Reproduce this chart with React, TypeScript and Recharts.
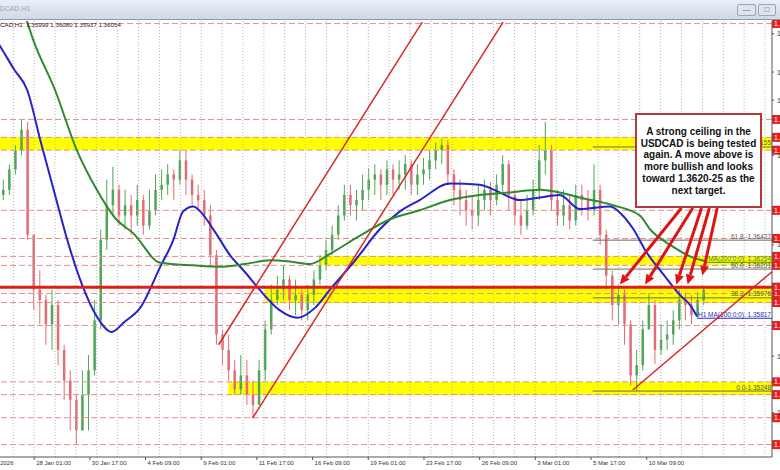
import React from 'react'
import { ComposedChart, Bar, Line, XAxis, YAxis, ReferenceLine, ReferenceArea } from 'recharts'

// candles: one per 7 hourly bars
const firstOpen = 1.3678
const barHours = 7
const firstBarHour = 32.5

const closes = [
   1.3682, 1.3698, 1.3713, 1.3729, 1.3647, 1.3604, 1.3596, 1.3577, 1.3592, 1.3557,
   1.3533, 1.3518, 1.3494, 1.3522, 1.3541, 1.358, 1.3643, 1.367, 1.3682, 1.3662,
   1.367, 1.3662, 1.3674, 1.3654, 1.3666, 1.3682, 1.3686, 1.3694, 1.369, 1.3705,
   1.369, 1.3678, 1.3674, 1.3662, 1.3631, 1.3569, 1.3557, 1.3541, 1.3526, 1.3537,
   1.3522, 1.3514, 1.3541, 1.3573, 1.3596, 1.3604, 1.3612, 1.3596, 1.36, 1.3588,
   1.36, 1.3612, 1.3623, 1.3635, 1.3647, 1.3662, 1.3678, 1.367, 1.3674, 1.3682,
   1.369, 1.3694, 1.3686, 1.3698, 1.369, 1.3694, 1.3702, 1.3686, 1.3694, 1.3698,
   1.3705, 1.3713, 1.3717, 1.3694, 1.3682, 1.3674, 1.3666, 1.3662, 1.3674, 1.3682,
   1.3674, 1.3686, 1.3702, 1.3678, 1.3662, 1.3654, 1.3666, 1.3682, 1.3705, 1.3713,
   1.3674, 1.3662, 1.367, 1.3658, 1.3678, 1.3674, 1.3666, 1.3682, 1.3647, 1.3615,
   1.3592, 1.36, 1.3577, 1.3537, 1.3545, 1.3573, 1.3592, 1.3557, 1.3565, 1.3569,
   1.358, 1.3596, 1.3592, 1.3584, 1.3596, 1.3604,
]
const highs = [
   1.369, 1.3702, 1.3717, 1.3737, 1.3735, 1.3623, 1.3619, 1.36, 1.3604, 1.3596,
   1.3561, 1.3541, 1.3522, 1.3541, 1.3553, 1.3596, 1.3651, 1.369, 1.37, 1.3686,
   1.3682, 1.3678, 1.3686, 1.3678, 1.3682, 1.3694, 1.3698, 1.3702, 1.3698, 1.3713,
   1.3713, 1.3694, 1.3686, 1.3682, 1.367, 1.3635, 1.3573, 1.3569, 1.3549, 1.3553,
   1.3549, 1.3533, 1.3549, 1.358, 1.3608, 1.3615, 1.3623, 1.3615, 1.3612, 1.3604,
   1.3608, 1.3619, 1.3631, 1.3643, 1.3654, 1.367, 1.3686, 1.3686, 1.3682, 1.3694,
   1.3699, 1.3702, 1.3698, 1.3705, 1.3702, 1.3705, 1.3709, 1.3705, 1.3702, 1.3707,
   1.3713, 1.3719, 1.3722, 1.3721, 1.3698, 1.369, 1.3682, 1.3678, 1.3686, 1.369,
   1.3688, 1.3694, 1.3709, 1.3705, 1.3682, 1.3674, 1.3678, 1.369, 1.3717, 1.3735,
   1.3717, 1.3682, 1.3682, 1.3678, 1.3686, 1.3686, 1.3682, 1.3702, 1.3686, 1.3651,
   1.3619, 1.3608, 1.3604, 1.358, 1.3557, 1.358, 1.3601, 1.3596, 1.3577, 1.358,
   1.3588, 1.3604, 1.3602, 1.36, 1.3602, 1.3606,
]
const lows = [
   1.3674, 1.3678, 1.3694, 1.3709, 1.3643, 1.3588, 1.3577, 1.3561, 1.3557, 1.3545,
   1.3518, 1.3494, 1.3483, 1.3498, 1.3494, 1.3537, 1.3573, 1.3635, 1.3662, 1.3654,
   1.3651, 1.3647, 1.3654, 1.3647, 1.3651, 1.3662, 1.3674, 1.3678, 1.3674, 1.3686,
   1.3678, 1.367, 1.3666, 1.3654, 1.3623, 1.3561, 1.3545, 1.3533, 1.3522, 1.3522,
   1.3514, 1.3504, 1.3514, 1.3533, 1.3569, 1.3592, 1.3596, 1.3588, 1.3584, 1.358,
   1.358, 1.3592, 1.3608, 1.3619, 1.3631, 1.3643, 1.3658, 1.3662, 1.3658, 1.3666,
   1.3674, 1.3678, 1.3674, 1.3678, 1.3678, 1.3682, 1.3682, 1.3678, 1.3678, 1.3686,
   1.369, 1.3698, 1.3702, 1.3686, 1.367, 1.3662, 1.3654, 1.3651, 1.3654, 1.3666,
   1.3662, 1.367, 1.3678, 1.3666, 1.3654, 1.3647, 1.3651, 1.3662, 1.3674, 1.3694,
   1.3666, 1.3654, 1.3654, 1.3651, 1.3654, 1.3662, 1.3658, 1.3662, 1.3639, 1.3604,
   1.358, 1.3577, 1.3561, 1.3529, 1.3525, 1.3541, 1.3573, 1.3546, 1.3553, 1.3557,
   1.3561, 1.3573, 1.358, 1.3577, 1.3582, 1.3592,
]

// moving averages (hour index, price)
const ma100Hours = [0, 29, 45, 60, 75, 92, 106, 123, 140, 157, 172, 190, 213, 228, 239, 251, 259, 276, 293, 310, 327, 350, 371, 391, 408, 437, 465, 488, 511, 546, 580, 603, 626, 649, 672, 695, 730, 743, 756, 772, 790, 810, 822, 830]
const ma100Values = [1.3822, 1.3794, 1.3776, 1.376, 1.3721, 1.3678, 1.3643, 1.3608, 1.3583, 1.3571, 1.3579, 1.359, 1.3622, 1.3643, 1.3665, 1.3669, 1.3665, 1.3649, 1.3631, 1.3618, 1.3604, 1.3588, 1.3582, 1.359, 1.3604, 1.3627, 1.3651, 1.3665, 1.3674, 1.3687, 1.3686, 1.368, 1.3674, 1.3676, 1.3678, 1.3667, 1.3669, 1.3663, 1.3652, 1.3633, 1.3617, 1.36, 1.3592, 1.3583]
const ma200Hours = [50, 60, 67, 92, 117, 140, 161, 182, 213, 251, 282, 310, 339, 362, 385, 408, 442, 477, 511, 546, 580, 615, 649, 672, 695, 733, 764, 776, 799, 822, 841]
const ma200Values = [1.383, 1.3813, 1.3799, 1.376, 1.3713, 1.3682, 1.366, 1.3648, 1.3625, 1.3623, 1.3622, 1.3624, 1.3627, 1.3626, 1.3624, 1.3632, 1.3646, 1.3659, 1.3666, 1.3674, 1.3678, 1.368, 1.3682, 1.368, 1.3676, 1.367, 1.3662, 1.3651, 1.3639, 1.363, 1.3626]

// axis
const tickHours = [4, 68, 132, 196, 260, 324, 388, 452, 516, 580, 644, 708, 772]
const tickLabels = ['23 Jan 2026', '28 Jan 01:00', '30 Jan 17:00', '4 Feb 09:00', '9 Feb 01:00', '11 Feb 17:00', '16 Feb 09:00', '19 Feb 01:00', '23 Feb 17:00', '26 Feb 09:00', '3 Mar 01:00', '5 Mar 17:00', '10 Mar 09:00']
const priceTicks = [1.3804, 1.3774, 1.3752, 1.3709, 1.3639, 1.3552, 1.3508]
const gridHours = Array.from({ length: 38 }, (_, k) => 20 + k * 24)

// drawn levels
const dashedLevels = [1.3812, 1.3737, 1.3723, 1.3713, 1.3666, 1.3644, 1.363, 1.3623, 1.3601, 1.3594, 1.3576, 1.3532, 1.3522, 1.3504, 1.3483]
const ceiling = 1.3606
const fibLevels = [1.37155, 1.36427, 1.36201, 1.35976, 1.35248]
const fibLabels = ['100.0 -1.37155', '61.8 -1.36427', '50.0 -1.36201', '38.2 -1.35976', '0.0-1.35248']
const fibStart = 710
const ma100Last = 1.35817
const ma200Last = 1.36254

const bands = [
   { from: 0, top: 1.37233, bottom: 1.37131 },
   { from: 396, top: 1.36303, bottom: 1.36233 },
   { from: 333, top: 1.36061, bottom: 1.35936 },
   { from: 291, top: 1.35318, bottom: 1.35217 },
]
const channelUpper = [{ x: 280, y: 1.3561 }, { x: 514, y: 1.3813 }]
const channelLower = [{ x: 319, y: 1.35037 }, { x: 607, y: 1.3813 }]
const riseLine = [{ x: 756, y: 1.35256 }, { x: 916, y: 1.3618 }]
const arrowStartHours = [812, 825, 835, 844, 853]
const arrowTipHours = [741, 770, 806, 819, 836]
const arrowTipPrices = [1.3608, 1.3608, 1.3608, 1.3608, 1.3615]
const boxBottomPrice = 1.36678

const candles = closes.map((c, i) => {
   const o = i === 0 ? firstOpen : closes[i - 1]
   const hi = Math.max(highs[i], o, c)
   const lo = Math.min(lows[i], o, c)
   return { h: firstBarHour + i * barHours, open: o, close: c, high: hi, low: lo, range: [lo, hi] }
})
const ma100 = ma100Hours.map((h, i) => ({ h, v: ma100Values[i] }))
const ma200 = ma200Hours.map((h, i) => ({ h, v: ma200Values[i] }))

const FONT = 'Liberation Sans, Arial, sans-serif'

const Candle = (props: any) => {
   const { x, y, width, height, payload } = props
   if (!payload) return null
   const { open, close, high, low } = payload
   const color = close >= open ? '#4fa658' : '#e06c76'
   const top = Math.min(y, y + height)
   const h = Math.abs(height)
   const span = high - low || 1e-9
   const yOf = (p: number) => top + ((high - p) / span) * h
   const cx = x + width / 2
   const bTop = yOf(Math.max(open, close))
   const bBot = yOf(Math.min(open, close))
   return (
      <g>
         <line x1={cx} x2={cx} y1={top} y2={top + h} stroke={color} strokeWidth={1} />
         <rect x={cx - 1.25} y={bTop} width={2.5} height={Math.max(1, bBot - bTop)} fill={color} />
      </g>
   )
}

const TimeTick = (props: any) => {
   const { x, y, payload } = props
   const i = tickHours.indexOf(payload.value)
   return (
      <text x={x + 2} y={y + 3} fontSize={6} fill="#333" fontFamily={FONT}>
         {tickLabels[i]}
      </text>
   )
}

const PriceTick = (props: any) => {
   const { x, y, payload } = props
   return (
      <text x={x + 1} y={y + 2.5} fontSize={7} fill="#333" fontFamily={FONT}>
         {payload.value.toFixed(5)}
      </text>
   )
}

const getBox = (p: any) => p.viewBox || p

const PriceTag = (p: any) => {
   const vb = getBox(p)
   const x = vb.x + vb.width
   return (
      <g>
         <rect x={x} y={vb.y - 4.5} width={10} height={9} fill="#e3201f" />
         <text x={x + 2} y={vb.y + 2.5} fontSize={7} fill="#fff" fontFamily={FONT}>1.3</text>
      </g>
   )
}

const rightText = (text: string, color: string) => (p: any) => {
   const vb = getBox(p)
   return (
      <text x={vb.x + vb.width - 1} y={vb.y - 1.5} textAnchor="end" fontSize={6.5} fill={color} fontFamily={FONT}>
         {text}
      </text>
   )
}

const Arrow = (props: any) => {
   const { x1, y1, x2, y2 } = props
   const a = Math.atan2(y2 - y1, x2 - x1)
   const len = 10
   const w = 4.5
   const bx = x2 - len * Math.cos(a)
   const by = y2 - len * Math.sin(a)
   const px = -Math.sin(a) * w
   const py = Math.cos(a) * w
   return (
      <g>
         <line x1={x1} y1={y1} x2={bx} y2={by} stroke="#dc1414" strokeWidth={3} />
         <polygon points={`${x2},${y2} ${bx + px},${by + py} ${bx - px},${by - py}`} fill="#dc1414" />
      </g>
   )
}

export default function App() {
   return (
      <div style={{ position: 'absolute', left: 0, top: 0, width: 780, height: 470, overflow: 'hidden', background: '#fff', fontFamily: FONT }}>
         <div style={{ position: 'absolute', left: -25, top: 0 }}>
            <ComposedChart width={805} height={470} data={candles} margin={{ top: 21, right: 0, left: 0, bottom: 0 }}>
               <XAxis
                  dataKey="h"
                  type="number"
                  domain={[0, 916]}
                  allowDataOverflow
                  ticks={tickHours}
                  interval={0}
                  tick={<TimeTick />}
                  tickSize={3}
                  tickLine={{ stroke: '#555' }}
                  axisLine={{ stroke: '#555' }}
                  height={13}
               />
               <YAxis
                  orientation="right"
                  type="number"
                  domain={[1.34733, 1.38139]}
                  allowDataOverflow
                  ticks={priceTicks}
                  interval={0}
                  tick={<PriceTick />}
                  tickSize={2}
                  tickLine={{ stroke: '#555' }}
                  axisLine={{ stroke: '#555' }}
                  width={8}
               />
               {gridHours.map((h) => (
                  <ReferenceLine key={'g' + h} x={h} stroke="#b4b4b4" strokeDasharray="1 2" ifOverflow="hidden" />
               ))}
               {bands.map((b, i) => (
                  <ReferenceArea key={'b' + i} x1={b.from} x2={916} y1={b.bottom} y2={b.top} fill="#ffff00" fillOpacity={1} stroke="none" />
               ))}
               {dashedLevels.map((p) => (
                  <ReferenceLine key={'d' + p} y={p} stroke="#e58f8f" strokeDasharray="6 3" label={(lp: any) => <PriceTag {...lp} />} />
               ))}
               {fibLevels.map((p, i) => (
                  <ReferenceLine
                     key={'f' + p}
                     segment={[{ x: fibStart, y: p }, { x: 916, y: p }]}
                     stroke="#6e6e58"
                     ifOverflow="visible"
                     label={rightText(fibLabels[i], '#555')}
                  />
               ))}
               <ReferenceLine
                  segment={[{ x: 830, y: ma100Last }, { x: 916, y: ma100Last }]}
                  stroke="#2b2bc0"
                  ifOverflow="visible"
                  label={rightText('H1 MA(100;0;0): 1.35817', '#2b2bc0')}
               />
               <ReferenceLine
                  segment={[{ x: 841, y: ma200Last }, { x: 916, y: ma200Last }]}
                  stroke="#3a8a3a"
                  ifOverflow="visible"
                  label={rightText('MA(200;0;0): 1.36254', '#3a8a3a')}
               />
               <Bar dataKey="range" barSize={4} shape={<Candle />} isAnimationActive={false} />
               <Line data={ma100} dataKey="v" type="monotone" dot={false} stroke="#2424c8" strokeWidth={2} isAnimationActive={false} />
               <Line data={ma200} dataKey="v" type="monotone" dot={false} stroke="#2e8a2e" strokeWidth={2} isAnimationActive={false} />
               <ReferenceLine y={ceiling} stroke="#e31b1b" strokeWidth={3} label={(lp: any) => <PriceTag {...lp} />} />
               <ReferenceLine segment={channelUpper} stroke="#d42a2a" strokeWidth={1.5} ifOverflow="visible" />
               <ReferenceLine segment={channelLower} stroke="#d42a2a" strokeWidth={1.5} ifOverflow="visible" />
               <ReferenceLine segment={riseLine} stroke="#d42a2a" strokeWidth={1.5} ifOverflow="visible" />
               {arrowStartHours.map((h, i) => (
                  <ReferenceLine
                     key={'a' + i}
                     segment={[{ x: h, y: boxBottomPrice }, { x: arrowTipHours[i], y: arrowTipPrices[i] }]}
                     ifOverflow="visible"
                     shape={(sp: any) => <Arrow {...sp} />}
                  />
               ))}
            </ComposedChart>
         </div>

         <div
            style={{
               position: 'absolute', left: 0, top: 0, width: 780, height: 20, boxSizing: 'border-box',
               background: 'linear-gradient(#e9eff6, #cfdae6)', borderBottom: '1px solid #8f9ba8',
            }}
         >
            <span style={{ position: 'absolute', left: -10, top: 5, fontSize: 7, color: '#9aa6b3' }}>USDCAD,H1</span>
            <div style={{ position: 'absolute', left: 737, top: 4, width: 19, height: 12, border: '1px solid #9aa6b3', borderRadius: 2, boxSizing: 'border-box', background: '#dde5ee', fontSize: 8, textAlign: 'center', lineHeight: '10px', color: '#667' }}>—</div>
            <div style={{ position: 'absolute', left: 758, top: 4, width: 18, height: 12, border: '1px solid #9aa6b3', borderRadius: 2, boxSizing: 'border-box', background: '#dde5ee', fontSize: 8, textAlign: 'center', lineHeight: '10px', color: '#667' }}>□</div>
         </div>
         <div style={{ position: 'absolute', left: -13, top: 21, fontSize: 6.2, color: '#222', whiteSpace: 'nowrap' }}>
            USDCAD,H1&nbsp;&nbsp;1.35999 1.36080 1.35937 1.36054
         </div>

         <div
            style={{
               position: 'absolute', left: 635, top: 113, width: 127, height: 95, boxSizing: 'border-box',
               border: '2px solid #b23a3a', background: '#fff', textAlign: 'center', fontWeight: 'bold',
               fontSize: 10, lineHeight: '11.7px', color: '#111', paddingTop: 11,
            }}
         >
            A strong ceiling in the<br />
            USDCAD is being tested<br />
            again. A move above is<br />
            more bullish and looks<br />
            toward 1.3620-25 as the<br />
            next target.
         </div>
      </div>
   )
}
